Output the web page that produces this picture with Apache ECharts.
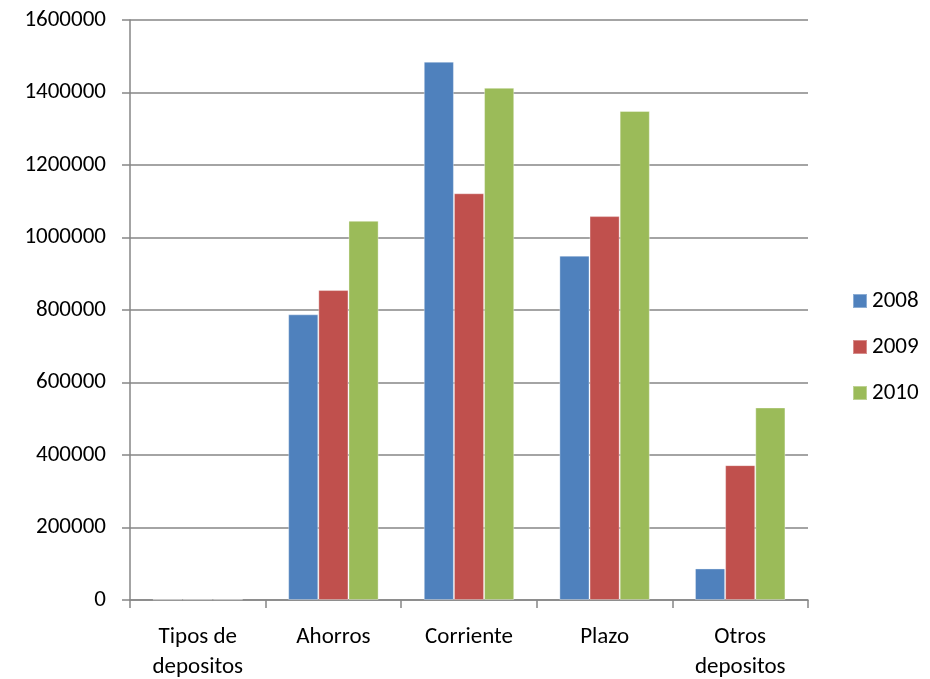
<!DOCTYPE html>
<html>
<head>
<meta charset="utf-8">
<script src="https://cdn.jsdelivr.net/npm/echarts@6/dist/echarts.min.js"></script>
<style>
  html, body { margin: 0; padding: 0; background: #fff; }
  #chart { width: 930px; height: 679px; }
</style>
</head>
<body>
<div id="chart"></div>
<script>
var categories = ['Tipos de\ndepositos', 'Ahorros', 'Corriente', 'Plazo', 'Otros\ndepositos'];
var years = ['2008', '2009', '2010'];
var values2008 = [2008, 788000, 1485000, 950000, 87000];
var values2009 = [2009, 855000, 1122000, 1059000, 372000];
var values2010 = [2010, 1046000, 1413000, 1349000, 531000];
var yTicks = { min: 0, max: 1600000, interval: 200000 };

var chartDom = document.getElementById('chart');
var myChart = echarts.init(chartDom);
var font = 'Carlito, Lato, sans-serif';
var grey = '#868686';

function barSeries(name, data) {
  return {
    name: name,
    type: 'bar',
    data: data,
    barGap: 0,
    barCategoryGap: '33.3%',
    itemStyle: {
      borderColor: 'rgba(255,255,255,0.35)',
      borderWidth: 1
    }
  };
}

var option = {
  animation: false,
  color: ['#4F81BD', '#C0504D', '#9BBB59'],
  grid: {
    left: 130,
    right: 122,
    top: 20,
    bottom: 79,
    outerBoundsMode: 'none'
  },
  legend: {
    data: years,
    orient: 'vertical',
    left: 852,
    top: 289,
    padding: 0,
    icon: 'rect',
    itemWidth: 14,
    itemHeight: 14,
    itemGap: 22,
    textStyle: {
      color: '#000',
      fontFamily: font,
      fontSize: 23,
      lineHeight: 24
    }
  },
  xAxis: {
    type: 'category',
    data: categories,
    axisLine: { show: true, lineStyle: { color: grey, width: 1.5 } },
    axisTick: { show: true, length: 8, lineStyle: { color: grey, width: 1.5 } },
    axisLabel: {
      color: '#000',
      fontFamily: font,
      fontSize: 23,
      lineHeight: 30,
      margin: 22,
      interval: 0
    }
  },
  yAxis: {
    type: 'value',
    min: yTicks.min,
    max: yTicks.max,
    interval: yTicks.interval,
    axisLine: { show: true, lineStyle: { color: grey, width: 1.5 } },
    axisTick: { show: true, length: 8, lineStyle: { color: grey, width: 1.5 } },
    axisLabel: {
      color: '#000',
      fontFamily: font,
      fontSize: 23,
      margin: 24,
      formatter: function (v) { return String(v); }
    },
    splitLine: { show: true, lineStyle: { color: grey, width: 1.5 } }
  },
  series: [
    barSeries('2008', values2008),
    barSeries('2009', values2009),
    barSeries('2010', values2010)
  ]
};

option && myChart.setOption(option);
window.addEventListener('resize', function () {
  myChart.resize();
});
</script>
</body>
</html>
